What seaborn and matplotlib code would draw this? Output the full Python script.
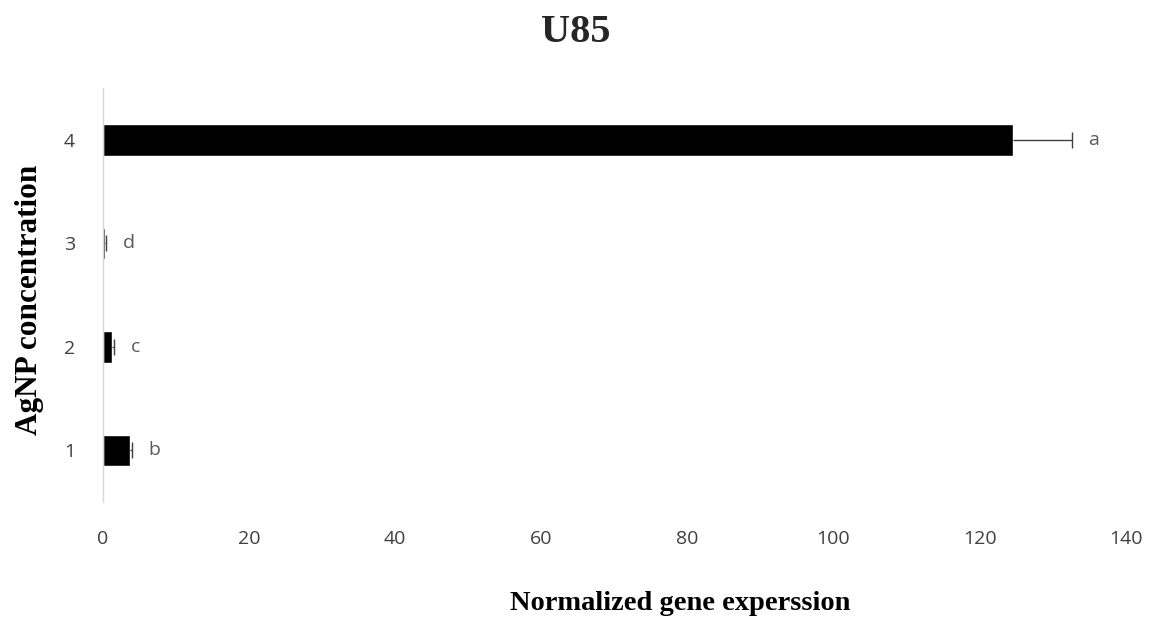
import matplotlib
matplotlib.use("Agg")
import matplotlib.pyplot as plt
import seaborn as sns
import pandas as pd

# AgNP concentration groups, mean normalized expression, SD and significance letters
concentrations = ["4", "3", "2", "1"]
expression = [124.6, 0.3, 1.2, 3.7]
errors = [8.0, 0.1, 0.3, 0.2]
letters = ["a", "d", "c", "b"]

sns.set_theme(style="white")
plt.rcParams["font.family"] = ["Open Sans", "DejaVu Sans"]

df = pd.DataFrame({"conc": concentrations, "value": expression})

fig = plt.figure(figsize=(11.51, 6.17), dpi=100)
ax = fig.add_axes([0.0895, 0.186, 0.8885, 0.671])

sns.barplot(data=df, x="value", y="conc", order=concentrations, orient="h",
            color="black", width=0.3, saturation=1, errorbar=None, ax=ax)

# one-sided error bars: a whisker from the bar end with a cap at its tip
ypos = list(range(len(concentrations)))
tips = [v + e for v, e in zip(expression, errors)]
ax.errorbar(expression, ypos, xerr=[[0] * len(errors), errors], fmt="none",
            ecolor="#404040", elinewidth=1, capsize=0)
ax.plot(tips, ypos, linestyle="none", marker="|", markersize=12,
        markeredgewidth=1, color="#404040")

for y, t, lab in zip(ypos, tips, letters):
    ax.annotate(lab, (t, y), xytext=(12, 0), textcoords="offset points",
                ha="left", va="center", fontsize=14, color="#595959")

ax.set_xlim(0, 140)
ax.set_ylim(3.5, -0.5)
ax.set_xticks(range(0, 141, 20))
ax.tick_params(axis="x", labelsize=14, length=0, pad=20)
ax.tick_params(axis="y", labelsize=14, length=0, pad=20)
for lbl in ax.get_xticklabels() + ax.get_yticklabels():
    lbl.set_color("#404040")

for side in ["top", "right", "bottom"]:
    ax.spines[side].set_visible(False)
ax.spines["left"].set_color("#d9d9d9")
ax.spines["left"].set_linewidth(1)

ax.set_xlabel("Normalized gene experssion", fontsize=20.5, fontweight="bold",
              family="Liberation Serif", color="black")
ax.set_ylabel("AgNP concentration", fontsize=22.5, fontweight="bold",
              family="Liberation Serif", color="black")
ax.xaxis.set_label_coords(0.564, -0.215)
ax.yaxis.set_label_coords(-0.058, 0.49)
fig.suptitle("U85", fontsize=29, fontweight="bold", family="Liberation Serif",
             y=0.978)

fig.savefig("out.png", dpi=100)
